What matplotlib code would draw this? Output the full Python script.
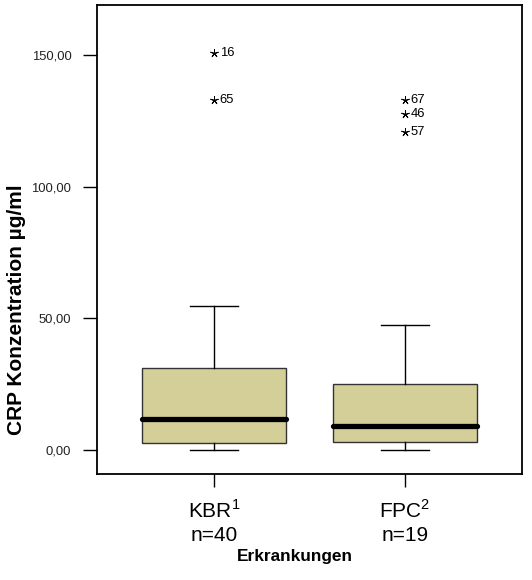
import matplotlib
matplotlib.use("Agg")
import matplotlib.pyplot as plt

plt.rcParams['font.family'] = ['Liberation Sans', 'DejaVu Sans']
plt.rcParams['mathtext.fontset'] = 'custom'
plt.rcParams['mathtext.rm'] = 'Liberation Sans'

# data
groups = ["KBR$^{1}$", "FPC$^{2}$"]
counts = [40, 19]
whisker_lo = [0.0, 0.0]
q1 = [2.8, 3.0]
median = [11.8, 9.2]
q3 = [31.3, 25.0]
whisker_hi = [54.8, 47.4]
outlier_vals = [[150.7, 133.0], [133.0, 127.7, 120.9]]
outlier_ids = [["16", "65"], ["67", "46", "57"]]

positions = [1, 2]
stats = []
for i in range(len(groups)):
    stats.append(dict(whislo=whisker_lo[i], q1=q1[i], med=median[i], q3=q3[i],
                      whishi=whisker_hi[i], fliers=[]))

fig = plt.figure(figsize=(5.32, 5.80), dpi=100)
ax = fig.add_axes([97/532, 106/580, 425/532, 469/580])

ax.bxp(stats, positions=positions, widths=0.754, patch_artist=True, showfliers=False,
       boxprops=dict(facecolor="#D4CF99", edgecolor="#333333", lw=1.0),
       medianprops=dict(color="black", lw=3.8, solid_capstyle="round"),
       whiskerprops=dict(color="black", lw=1.0),
       capprops=dict(color="black", lw=1.0), capwidths=0.25)

for pos, vals, ids in zip(positions, outlier_vals, outlier_ids):
    ax.plot([pos]*len(vals), vals, ls="none", marker=(5, 2, 0), ms=6, mew=0.7, color="black")
    for v, t in zip(vals, ids):
        ax.annotate(t, (pos, v), xytext=(4, 0), textcoords="offset points",
                    va="center", ha="left", fontsize=9.4)

ax.set_xlim(0.387, 2.613)
ax.set_ylim(-9.1, 169.1)
ax.set_yticks([0, 50, 100, 150])
ax.set_yticklabels(["0,00", "50,00", "100,00", "150,00"], fontsize=9.4, color="#222222")
ax.set_xticks(positions)
ax.set_xticklabels([f"{g}\nn={n}" for g, n in zip(groups, counts)], fontsize=15,
                   linespacing=1.3)
ax.tick_params(axis="y", length=10, width=1.0, pad=8.5)
ax.tick_params(axis="x", length=9, width=1.0, pad=9)
for s in ax.spines.values():
    s.set_linewidth(1.3)

ax.set_xlabel("Erkrankungen", fontsize=12.4, fontweight="bold")
ax.xaxis.set_label_coords(0.466, -0.160)
ax.set_ylabel("CRP Konzentration µg/ml", fontsize=15, fontweight="bold")
ax.yaxis.set_label_coords(-0.167, 0.35)

fig.savefig("out.png", dpi=100)
